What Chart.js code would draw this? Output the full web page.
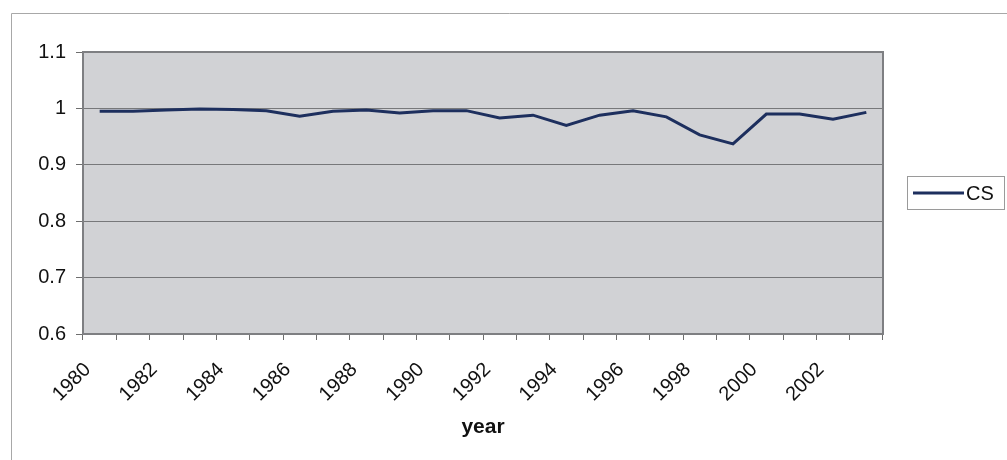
<!DOCTYPE html>
<html>
<head>
<meta charset="utf-8">
<script src="https://cdn.jsdelivr.net/npm/chart.js@4.4.1/dist/chart.umd.min.js"></script>
<style>
  html, body { margin: 0; padding: 0; background: #ffffff; }
  #wrap { position: relative; width: 1007px; height: 460px; }
</style>
</head>
<body>
<div id="wrap"><canvas id="c" width="1007" height="460"></canvas></div>
<script>
// Years on the category axis
const years = ['1980','1981','1982','1983','1984','1985','1986','1987','1988','1989','1990','1991',
               '1992','1993','1994','1995','1996','1997','1998','1999','2000','2001','2002','2003'];
// CS series, one value per year
const csValues = [0.995, 0.995, 0.997, 0.999, 0.998, 0.996, 0.986, 0.995, 0.997, 0.992, 0.996, 0.996,
                  0.983, 0.988, 0.970, 0.988, 0.996, 0.985, 0.953, 0.937, 0.990, 0.990, 0.981, 0.993];
// Value-axis labels
const yTickLabels = ['0.6', '0.7', '0.8', '0.9', '1', '1.1'];
const seriesName = 'CS';
const axisTitle = 'year';

const FONT = "'Liberation Sans', Arial, sans-serif";
const NAVY = '#1d2f5e';

// Gray plot background, plot frame, outer frame and legend box
const decor = {
  id: 'decor',
  beforeDraw(chart) {
    const { ctx, chartArea: a } = chart;
    ctx.save();
    // outer chart frame (top and left edges)
    ctx.strokeStyle = '#a8a8a8';
    ctx.lineWidth = 1;
    ctx.beginPath();
    ctx.moveTo(11.5, 460);
    ctx.lineTo(11.5, 13.5);
    ctx.lineTo(1007, 13.5);
    ctx.stroke();
    // plot area fill
    ctx.fillStyle = '#d1d2d5';
    ctx.fillRect(a.left, a.top, a.right - a.left, a.bottom - a.top);
    ctx.restore();
  },
  beforeDatasetsDraw(chart) {
    const { ctx, chartArea: a } = chart;
    ctx.save();
    ctx.strokeStyle = '#7e7f82';
    ctx.lineWidth = 2;
    ctx.strokeRect(a.left, a.top, a.right - a.left, a.bottom - a.top);
    ctx.restore();
  },
  afterDraw(chart) {
    const { ctx, chartArea: a } = chart;
    const ds = chart.data.datasets[0];
    const cy = Math.round((a.top + a.bottom) / 2);
    ctx.save();
    ctx.strokeStyle = '#9a9a9a';
    ctx.lineWidth = 1;
    ctx.strokeRect(907.5, cy - 16.5, 97, 33);
    ctx.strokeStyle = ds.borderColor;
    ctx.lineWidth = 3;
    ctx.beginPath();
    ctx.moveTo(913, cy);
    ctx.lineTo(964, cy);
    ctx.stroke();
    ctx.fillStyle = '#111111';
    ctx.font = '20px ' + FONT;
    ctx.textBaseline = 'middle';
    ctx.textAlign = 'left';
    ctx.fillText(ds.label, 966, cy + 1);
    ctx.restore();
  }
};

new Chart(document.getElementById('c'), {
  type: 'line',
  data: {
    labels: years,
    datasets: [{
      label: seriesName,
      data: csValues,
      borderColor: NAVY,
      borderWidth: 3,
      pointRadius: 0,
      tension: 0,
      fill: false
    }]
  },
  options: {
    responsive: false,
    animation: false,
    layout: { padding: { left: 0, top: 52, right: 124, bottom: 0 } },
    plugins: { legend: { display: false }, tooltip: { enabled: false } },
    scales: {
      x: {
        type: 'category',
        offset: true,
        border: { display: false },
        grid: {
          offset: true,
          drawOnChartArea: false,
          drawTicks: true,
          tickLength: 6,
          color: '#6e6e6e',
          lineWidth: 1
        },
        ticks: {
          autoSkip: false,
          maxRotation: 45,
          minRotation: 45,
          padding: 18,
          labelOffset: -12,
          color: '#111111',
          font: { family: FONT, size: 20 },
          callback: (v, i) => (i % 2 === 0 ? years[i] : '')
        },
        title: {
          display: true,
          text: axisTitle,
          color: '#111111',
          font: { family: FONT, size: 21, weight: 'bold' },
          padding: { top: 0, bottom: 20 }
        },
        afterFit: (s) => { s.height = 126; }
      },
      y: {
        min: 0.6,
        max: 1.1,
        border: { display: false },
        grid: {
          color: '#77787a',
          lineWidth: 1,
          drawTicks: true,
          tickLength: 7,
          tickColor: '#6e6e6e'
        },
        ticks: {
          stepSize: 0.1,
          padding: 10,
          color: '#111111',
          font: { family: FONT, size: 20 },
          callback: (v, i) => yTickLabels[i]
        },
        afterFit: (s) => { s.width = 83; }
      }
    }
  },
  plugins: [decor]
});
</script>
</body>
</html>
